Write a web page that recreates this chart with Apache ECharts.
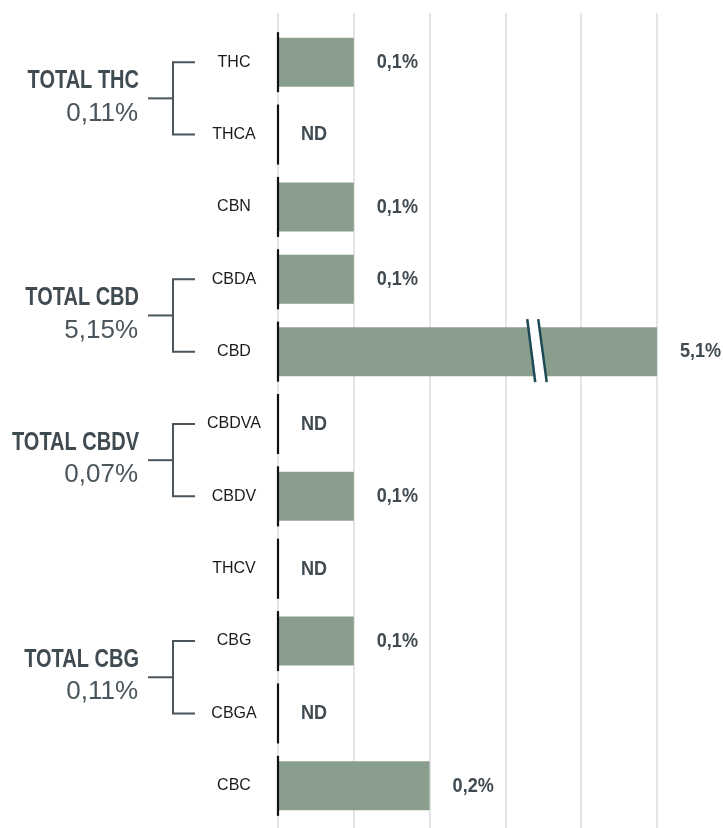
<!DOCTYPE html>
<html>
<head>
<meta charset="utf-8">
<style>
html,body{margin:0;padding:0;background:#fff;}
#chart{width:723px;height:828px;}
</style>
<script src="https://cdn.jsdelivr.net/npm/echarts@6/dist/echarts.min.js"></script>
</head>
<body>
<div id="chart"></div>
<script>
// ---- data ----
const categories = ['THC','THCA','CBN','CBDA','CBD','CBDVA','CBDV','THCV','CBG','CBGA','CBC'];
const values = [0.1, null, 0.1, 0.1, 5.1, null, 0.1, null, 0.1, null, 0.2]; // % ; null = ND
const groupTitles = ['TOTAL THC','TOTAL CBD','TOTAL CBDV','TOTAL CBG'];
const groupTotals = ['0,11%','5,15%','0,07%','0,11%'];
const groupTop = [0, 3, 5, 8];
const groupBottom = [1, 4, 6, 9];
const axisTicks = [0, 0.1, 0.2, 0.3, 0.4, 0.5];
const axisMax = 0.5;
const breakAt = 0.342; // where the axis-break mark is drawn on the clipped bar

const barColor = '#8a9e8d';
const darkText = '#3f4a51';
const regular = "'Liberation Sans',Arial,sans-serif";

const displayValues = values.map(v => v == null ? 0 : Math.min(v, axisMax));
const fmt = v => v == null ? 'ND' : String(v).replace('.', ',') + '%';

const chart = echarts.init(document.getElementById('chart'), null, {renderer:'canvas'});

const groupData = groupTitles.map((t, i) => [0, groupTop[i], groupBottom[i], i]);
const brokenIdx = values.map((v, i) => (v != null && v > axisMax) ? i : -1).filter(i => i >= 0);

chart.setOption({
  animation: false,
  grid: [
    {left: 278, width: 379, top: 13, bottom: 0},
    {left: 278, width: 379, top: 26, height: 796}
  ],
  xAxis: [
    {gridIndex: 0, type: 'value', min: axisTicks[0], max: axisMax, interval: 0.1,
     axisLine:{show:false}, axisTick:{show:false}, axisLabel:{show:false},
     splitLine:{show:true, lineStyle:{color:'#dcdcdc', width:1.5}}},
    {gridIndex: 1, type: 'value', min: axisTicks[0], max: axisMax, interval: 0.1,
     axisLine:{show:false}, axisTick:{show:false}, axisLabel:{show:false},
     splitLine:{show:false}}
  ],
  yAxis: [
    {gridIndex: 0, type: 'value', show: false},
    {gridIndex: 1, type: 'category', inverse: true, data: categories,
     axisLine:{show:false}, axisTick:{show:false}, splitLine:{show:false},
     axisLabel:{margin: 44, align:'center', color:'#1b1b1b', fontSize:16, fontFamily: regular}}
  ],
  series: [
    {
      type: 'bar', xAxisIndex: 1, yAxisIndex: 1, barWidth: 49,
      data: displayValues,
      itemStyle: {color: barColor},
      z: 2
    },
    {
      // value labels (condensed bold)
      type: 'custom', xAxisIndex: 1, yAxisIndex: 1, z: 4, clip: false,
      data: displayValues.map((v, i) => [v, i]),
      renderItem: function(params, api) {
        const p = api.coord([api.value(0), api.value(1)]);
        return {type:'text', x: p[0] + 23, y: p[1], scaleX: 0.86,
          style:{text: fmt(values[params.dataIndex]), align:'left', verticalAlign:'middle',
            fill: darkText, font: "bold 21px " + regular}};
      }
    },
    {
      // axis segments per category
      type: 'custom', xAxisIndex: 1, yAxisIndex: 1, z: 5,
      data: categories.map((c, i) => [0, i]),
      renderItem: function(params, api) {
        const p = api.coord([0, api.value(1)]);
        const band = api.size([0, 1])[1];
        const h = band * 0.415;
        return {type:'line', shape:{x1:p[0], y1:p[1]-h, x2:p[0], y2:p[1]+h},
          style:{stroke:'#111', lineWidth:2.2}};
      }
    },
    {
      // break marks
      type: 'custom', xAxisIndex: 1, yAxisIndex: 1, z: 6,
      data: brokenIdx.map(i => [breakAt, i]),
      renderItem: function(params, api) {
        const p = api.coord([api.value(0), api.value(1)]);
        const cx = p[0], cy = p[1];
        const t = cy - 32.5, b = cy + 30.5;
        return {type:'group', children:[
          {type:'polygon', shape:{points:[[cx-9,t],[cx+2,t],[cx+10,b],[cx-1,b]]}, style:{fill:'#fff'}},
          {type:'line', shape:{x1:cx-10, y1:t, x2:cx-2, y2:b}, style:{stroke:'#1d4a55', lineWidth:2.5}},
          {type:'line', shape:{x1:cx+1, y1:t, x2:cx+9.5, y2:b}, style:{stroke:'#1d4a55', lineWidth:2.5}}
        ]};
      }
    },
    {
      // group brackets and totals
      type: 'custom', xAxisIndex: 1, yAxisIndex: 1, z: 5, clip: false,
      data: groupData,
      renderItem: function(params, api) {
        const pTop = api.coord([0, api.value(1)]);
        const pBot = api.coord([0, api.value(2)]);
        const gi = api.value(3);
        const x0 = pTop[0];
        const y1 = pTop[1], y2 = pBot[1], mid = (y1 + y2) / 2;
        const vx = x0 - 105, tx = x0 - 83, mx = x0 - 130;
        const st = {stroke:'#4a555c', lineWidth:2, fill:null};
        return {type:'group', children:[
          {type:'polyline', shape:{points:[[tx,y1],[vx,y1],[vx,y2],[tx,y2]]}, style:st},
          {type:'line', shape:{x1:mx, y1:mid, x2:vx, y2:mid}, style:st},
          {type:'text', x: x0 - 139, y: mid - 17, scaleX: 0.8, style:{text: groupTitles[gi], align:'right', verticalAlign:'middle',
            fill: darkText, font: "bold 25px " + regular}},
          {type:'text', x: x0 - 140, y: mid + 15, style:{text: groupTotals[gi], align:'right', verticalAlign:'middle',
            fill: '#4a555c', font: "26px " + regular}}
        ]};
      }
    }
  ]
});
</script>
</body>
</html>
